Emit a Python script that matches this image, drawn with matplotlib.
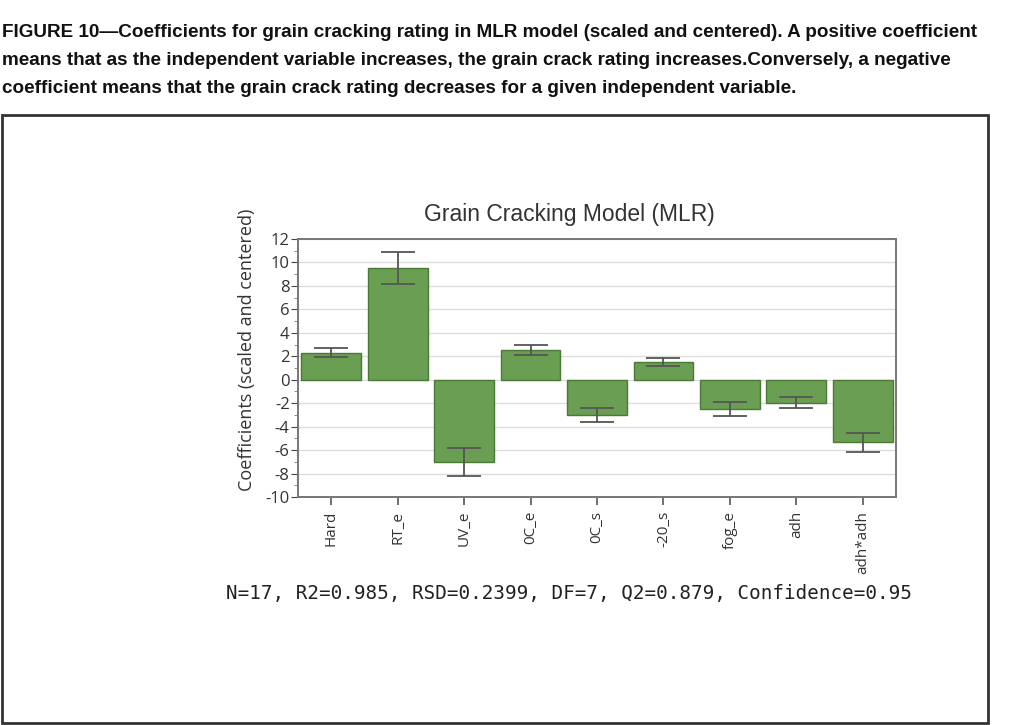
import matplotlib.pyplot as plt
from matplotlib.patches import Rectangle
from matplotlib.ticker import MultipleLocator

plt.rcParams["axes.unicode_minus"] = False

# -------------------------
# Data
# -------------------------
terms = ["Hard", "RT_e", "UV_e", "0C_e", "0C_s", "-20_s", "fog_e", "adh", "adh*adh"]
coefs = [2.3, 9.5, -7.0, 2.55, -3.0, 1.5, -2.5, -1.95, -5.35]
conf_int = [0.4, 1.37, 1.2, 0.45, 0.6, 0.35, 0.6, 0.45, 0.78]

caption_lines = [
    "FIGURE 10\u2014Coefficients for grain cracking rating in MLR model (scaled and centered). A positive coefficient",
    "means that as the independent variable increases, the grain crack rating increases.Conversely, a negative",
    "coefficient means that the grain crack rating decreases for a given independent variable.",
]
footer = "N=17, R2=0.985, RSD=0.2399, DF=7, Q2=0.879, Confidence=0.95"

W, H = 1024, 725
fig = plt.figure(figsize=(W / 100, H / 100), dpi=100)

# caption above the framed chart; shrink so the first line fits the frame width
cap_texts = [fig.text(2 / W, 1 - (37 + i * 28) / H, line, fontsize=14, va="baseline",
                      ha="left", color="#111111", family="Liberation Sans",
                      fontweight="bold")
             for i, line in enumerate(caption_lines)]
renderer = fig.canvas.get_renderer()
w0 = cap_texts[0].get_window_extent(renderer).width
size = 14 * 978 / w0
for t in cap_texts:
    t.set_fontsize(size)

# frame round the chart
fig.patches.append(Rectangle((1.5 / W, 2 / H), (988 - 1.5) / W, (723 - 115) / H,
                             transform=fig.transFigure, fill=False,
                             edgecolor="#333333", linewidth=2))

ax = fig.add_axes([298 / W, 1 - 497 / H, (896 - 298) / W, (497 - 239) / H])
x = range(len(terms))
ax.bar(x, coefs, width=0.9, color="#6a9e52", edgecolor="#4b7a36", linewidth=1, zorder=2)
ax.errorbar(x, coefs, yerr=conf_int, fmt="none", ecolor="#555555", elinewidth=1.3,
            capsize=12, capthick=1.3, zorder=3)

ax.set_xlim(-0.5, len(terms) - 0.5)
ax.set_ylim(-10, 12)
ax.yaxis.set_major_locator(MultipleLocator(2))
ax.yaxis.set_minor_locator(MultipleLocator(1))
ax.grid(axis="y", which="major", color="#dddddd", linewidth=1, zorder=0)
ax.set_xticks(list(x))
ax.set_xticklabels(terms, rotation=90, family="Open Sans", fontsize=11, color="#333333")
for lab in ax.get_yticklabels():
    lab.set_family("Open Sans")
ax.tick_params(axis="y", labelsize=12, colors="#444444", labelcolor="#333333", length=5, pad=1)
ax.tick_params(axis="y", which="minor", colors="#777777", length=3)
ax.tick_params(axis="x", colors="#555555", labelcolor="#333333", length=6, width=1.2, pad=4)
for s in ax.spines.values():
    s.set_color("#777777")
    s.set_linewidth(1.4)

fig.text(569 / W, 1 - 214 / H, "Grain Cracking Model (MLR)", family="Liberation Sans",
         fontsize=16.5, ha="center", va="center", color="#333333")
fig.text(247 / W, 1 - 350 / H, "Coefficients (scaled and centered)", family="Open Sans",
         fontsize=13, rotation=90, ha="center", va="center", color="#333333")
fig.text(226 / W, 1 - 593 / H, footer, family="DejaVu Sans Mono", fontsize=13.9,
         ha="left", va="center", color="#222222")

fig.savefig("out.png", dpi=100)
